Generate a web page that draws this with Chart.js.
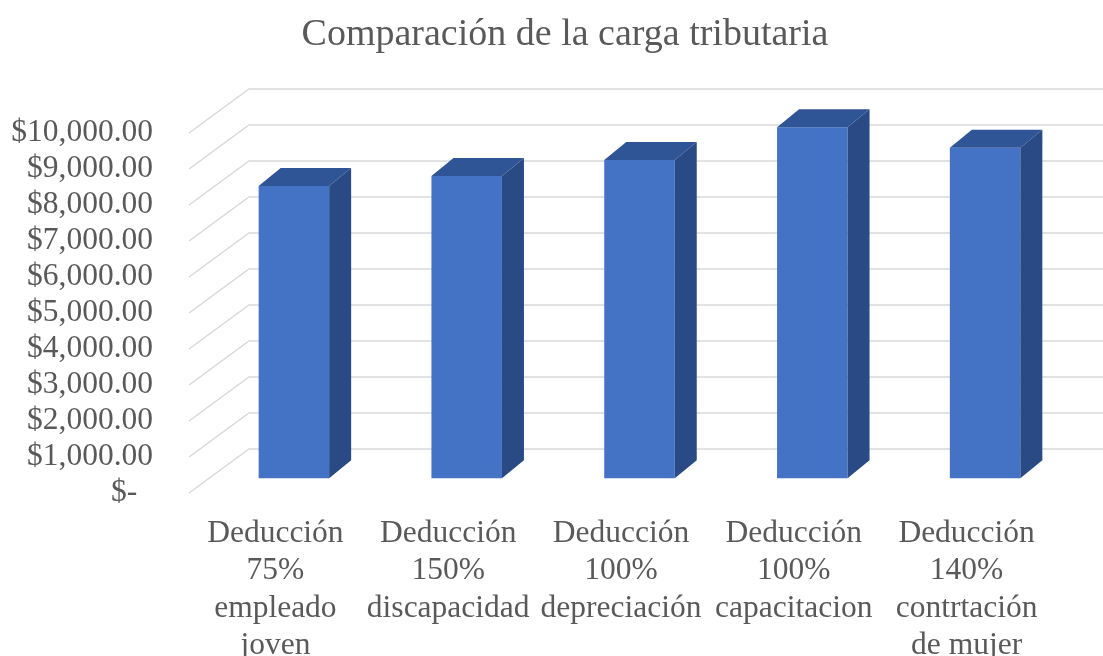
<!DOCTYPE html>
<html>
<head>
<meta charset="utf-8">
<script src="https://cdn.jsdelivr.net/npm/chart.js@4.4.1/dist/chart.umd.min.js"></script>
<style>
  body { margin: 0; background: #fff; }
</style>
</head>
<body>
<canvas id="taxChart" width="1103" height="656"></canvas>
<script>
// data
const chartTitle = 'Comparación de la carga tributaria';
const categories = [
    ['Deducción', '75%', 'empleado', 'joven'],
    ['Deducción', '150%', 'discapacidad'],
    ['Deducción', '100%', 'depreciación'],
    ['Deducción', '100%', 'capacitacion'],
    ['Deducción', '140%', 'contrtación', 'de mujer']
];
const cargaValues = [8120, 8400, 8840, 9750, 9180];
const yTickLabels = ['$-', '$1,000.00', '$2,000.00', '$3,000.00', '$4,000.00', '$5,000.00',
    '$6,000.00', '$7,000.00', '$8,000.00', '$9,000.00', '$10,000.00'];

const textColor = '#595959';
const serif = "'Liberation Serif', 'Times New Roman', serif";

// fake 3D: floor depth, bar position inside the depth, bar thickness
const floorDepth = { x: 60, y: -44 };
const barShift = { x: 18.5, y: -14.7 };
const barDepth = { x: 22, y: -18 };

const threeD = {
    id: 'threeD',
    beforeDatasetsDraw(chart) {
        const ctx = chart.ctx;
        const area = chart.chartArea;
        const yScale = chart.scales.y;
        ctx.save();
        ctx.strokeStyle = '#d9d9d9';
        ctx.lineWidth = 1.5;
        yScale.ticks.forEach(function(t) {
            const y = yScale.getPixelForValue(t.value);
            ctx.beginPath();
            ctx.moveTo(area.left, y);
            ctx.lineTo(area.left + floorDepth.x, y + floorDepth.y);
            ctx.lineTo(chart.width, y + floorDepth.y);
            ctx.stroke();
        });
        ctx.restore();
        // front faces are drawn by chart.js, shifted into the depth
        ctx.save();
        ctx.translate(barShift.x, barShift.y);
    },
    afterDatasetsDraw(chart) {
        const ctx = chart.ctx;
        ctx.restore();
        const meta = chart.getDatasetMeta(0);
        meta.data.forEach(function(bar) {
            const p = bar.getProps(['x', 'y', 'base', 'width'], true);
            const l = p.x - p.width / 2 + barShift.x;
            const r = p.x + p.width / 2 + barShift.x;
            const top = p.y + barShift.y;
            const bottom = p.base + barShift.y;
            // top face
            ctx.fillStyle = '#2f5597';
            ctx.beginPath();
            ctx.moveTo(l, top);
            ctx.lineTo(l + barDepth.x, top + barDepth.y);
            ctx.lineTo(r + barDepth.x, top + barDepth.y);
            ctx.lineTo(r, top);
            ctx.closePath();
            ctx.fill();
            // side face
            ctx.fillStyle = '#294a84';
            ctx.beginPath();
            ctx.moveTo(r, top);
            ctx.lineTo(r + barDepth.x, top + barDepth.y);
            ctx.lineTo(r + barDepth.x, bottom + barDepth.y);
            ctx.lineTo(r, bottom);
            ctx.closePath();
            ctx.fill();
        });
    },
    afterDraw(chart) {
        const ctx = chart.ctx;
        ctx.save();
        ctx.fillStyle = textColor;
        ctx.font = '38px ' + serif;
        ctx.textAlign = 'center';
        ctx.textBaseline = 'alphabetic';
        ctx.fillText(chartTitle, 565, 45);
        ctx.restore();
    }
};

new Chart(document.getElementById('taxChart'), {
    type: 'bar',
    data: {
        labels: categories,
        datasets: [{
            label: 'Carga tributaria',
            data: cargaValues,
            backgroundColor: '#4472c4',
            borderWidth: 0,
            barPercentage: 0.408,
            categoryPercentage: 1,
            clip: false
        }]
    },
    options: {
        responsive: false,
        animation: false,
        layout: {
            padding: { top: 133, right: 50, bottom: 0, left: 11 }
        },
        plugins: {
            legend: { display: false },
            title: { display: false },
            tooltip: { enabled: false }
        },
        scales: {
            x: {
                grid: { display: false, drawTicks: false },
                border: { display: false },
                ticks: {
                    color: textColor,
                    font: { family: serif, size: 31.5, lineHeight: 1.19 },
                    padding: 22,
                    maxRotation: 0,
                    autoSkip: false
                },
                afterFit: function(scale) { scale.height = 163; }
            },
            y: {
                min: 0,
                max: 10000,
                grid: { display: false, drawTicks: false },
                border: { display: false },
                ticks: {
                    stepSize: 1000,
                    autoSkip: false,
                    color: textColor,
                    font: { family: serif, size: 31.5 },
                    padding: 36,
                    callback: function(value, index) {
                        const label = yTickLabels[index];
                        return value === 0 ? label + '  ' : label;
                    }
                },
                afterFit: function(scale) { scale.width = 178; }
            }
        }
    },
    plugins: [threeD]
});
</script>
</body>
</html>
